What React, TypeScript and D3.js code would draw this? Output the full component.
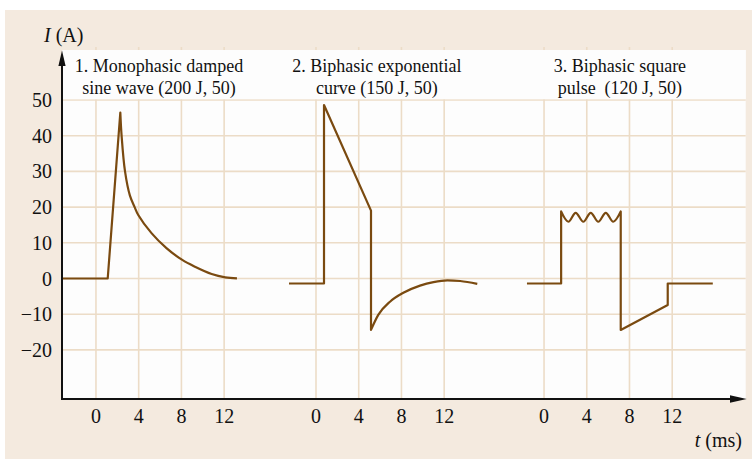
import * as d3 from 'd3'

type Pt = [number, number]

// time (ms) vs current (A)
const xTicks = [0, 4, 8, 12]
const yTicks = [50, 40, 30, 20, 10, 0, -10, -20]

const monoRise: Pt[] = [[-3.2, 0], [1.1, 0], [2.28, 46.5]]
const monoDecay: Pt[] = [
  [2.28, 46.5], [2.4, 40], [2.72, 30], [3.18, 23.2], [3.62, 20], [3.96, 17.8], [5.2, 12.7],
  [6.6, 8.5], [8.08, 5.2], [9.27, 3.3], [10.83, 1.26], [12.1, 0.33], [13.2, 0.05],
]

const biexpSteps: Pt[] = [[-2.53, -1.4], [0.75, -1.4], [0.75, 48.6], [5.15, 19], [5.15, -14.4]]
const biexpTail: Pt[] = [
  [5.15, -14.4], [5.83, -10.2], [6.93, -6.5], [8.18, -4.0], [9.74, -2.0],
  [11.0, -1.0], [12.3, -0.5], [13.5, -0.7], [15.1, -1.5],
]

const squareRiseSteps: Pt[] = [[-1.6, -1.4], [1.6, -1.4], [1.6, 18.8]]
const squareRipple: Pt[] = [
  [1.6, 18.8], [2.28, 15.9], [2.96, 18.4], [3.68, 15.9], [4.37, 18.4],
  [5.08, 15.9], [5.78, 18.4], [6.48, 15.9], [7.18, 18.8],
]
const squareFallSteps: Pt[] = [[7.18, 18.8], [7.18, -14.4], [11.58, -7.4], [11.58, -1.4], [15.8, -1.4]]

const titles = [
  ['1. Monophasic damped', 'sine wave (200 J, 50)'],
  ['2. Biphasic exponential', 'curve (150 J, 50)'],
  ['3. Biphasic square', 'pulse  (120 J, 50)'],
]
const titleCenters = [5.9, 5.7, 7.1]
const panelOffsets = [0, 20.6, 41.95]

const panels = [
  [{ pts: monoRise, curve: d3.curveLinear }, { pts: monoDecay, curve: d3.curveCatmullRom }],
  [{ pts: biexpSteps, curve: d3.curveLinear }, { pts: biexpTail, curve: d3.curveMonotoneX }],
  [
    { pts: squareRiseSteps, curve: d3.curveLinear },
    { pts: squareRipple, curve: d3.curveMonotoneX },
    { pts: squareFallSteps, curve: d3.curveLinear },
  ],
]

const W = 752
const H = 459
const plot = { left: 62, right: 745.7, top: 50, bottom: 399 }
const font = "'Liberation Serif', 'Times New Roman', serif"
const beige = '#f4eadf'
const gridColor = '#ecdcc7'
const curveColor = '#7a4a10'

export default function App() {
  const x = d3.scaleLinear().domain([-3.18, 60.83]).range([plot.left, plot.right])
  const y = d3.scaleLinear().domain([-33.75, 64]).range([plot.bottom, plot.top])

  const paths = panels.map((segs, i) => {
    const off = panelOffsets[i]
    return segs
      .map((s, k) => {
        const gen = d3
          .line<Pt>()
          .x((d) => x(d[0] + off))
          .y((d) => y(d[1]))
          .curve(s.curve)
        const p = gen(s.pts) || ''
        return k === 0 ? p : p.replace(/^M/, 'L')
      })
      .join('')
  })

  const vGrid = panelOffsets.flatMap((off) => xTicks.map((t) => ({ t, px: x(t + off) })))

  return (
    <svg
      width={W}
      height={H}
      style={{ position: 'absolute', left: 0, top: 0, display: 'block', background: '#fff' }}
      fontFamily={font}
    >
      <rect x={5} y={10} width={W - 5} height={H - 10} fill={beige} />
      <rect
        x={plot.left}
        y={plot.top}
        width={plot.right - plot.left}
        height={plot.bottom - plot.top}
        fill="#fdfdfd"
      />

      {/* grid */}
      {yTicks.map((v) => (
        <line key={'h' + v} x1={plot.left} x2={plot.right} y1={y(v)} y2={y(v)} stroke={gridColor} strokeWidth={1.6} />
      ))}
      {vGrid.map((g, i) => (
        <line key={'v' + i} x1={g.px} x2={g.px} y1={47} y2={plot.bottom} stroke={gridColor} strokeWidth={1.6} />
      ))}

      {/* title band covers the grid */}
      <rect x={plot.left + 1} y={plot.top} width={plot.right - plot.left - 1} height={y(50) - plot.top - 0.8} fill="#fdfdfd" />

      {titles.map((lines, i) => (
        <text key={'t' + i} fontSize={18} fill="#111" textAnchor="middle" style={{ whiteSpace: 'pre' }}>
          {lines.map((l, k) => (
            <tspan key={k} x={x(titleCenters[i] + panelOffsets[i])} y={71.7 + k * 22.6}>
              {l}
            </tspan>
          ))}
        </text>
      ))}

      {/* curves */}
      {paths.map((d, i) => (
        <path key={'p' + i} d={d} fill="none" stroke={curveColor} strokeWidth={2.2} strokeLinejoin="round" />
      ))}

      {/* axes */}
      <line x1={plot.left} x2={plot.left} y1={plot.bottom + 1} y2={64} stroke="#111" strokeWidth={2} />
      <path d={`M${plot.left},50.5 L${plot.left - 3.6},66 L${plot.left + 3.6},66 Z`} fill="#111" />
      <line x1={plot.left - 1} x2={731} y1={plot.bottom} y2={plot.bottom} stroke="#111" strokeWidth={2} />
      <path d={`M746.7,${plot.bottom} L730,${plot.bottom - 3.8} L730,${plot.bottom + 3.8} Z`} fill="#111" />

      {yTicks.map((v) => (
        <text key={'yl' + v} x={52} y={y(v) + 7} fontSize={20} textAnchor="end" fill="#111">
          {v < 0 ? '\u2212' + Math.abs(v) : v}
        </text>
      ))}
      {vGrid.map((g, i) => (
        <text key={'xl' + i} x={g.px} y={423} fontSize={20} textAnchor="middle" fill="#111">
          {g.t}
        </text>
      ))}

      <text x={44} y={42.3} fontSize={20} fill="#111" style={{ whiteSpace: 'pre' }}>
        <tspan fontStyle="italic">I</tspan>
        <tspan> (A)</tspan>
      </text>
      <text x={742} y={447.3} fontSize={20} fill="#111" textAnchor="end" style={{ whiteSpace: 'pre' }}>
        <tspan fontStyle="italic">t</tspan>
        <tspan> (ms)</tspan>
      </text>
    </svg>
  )
}
